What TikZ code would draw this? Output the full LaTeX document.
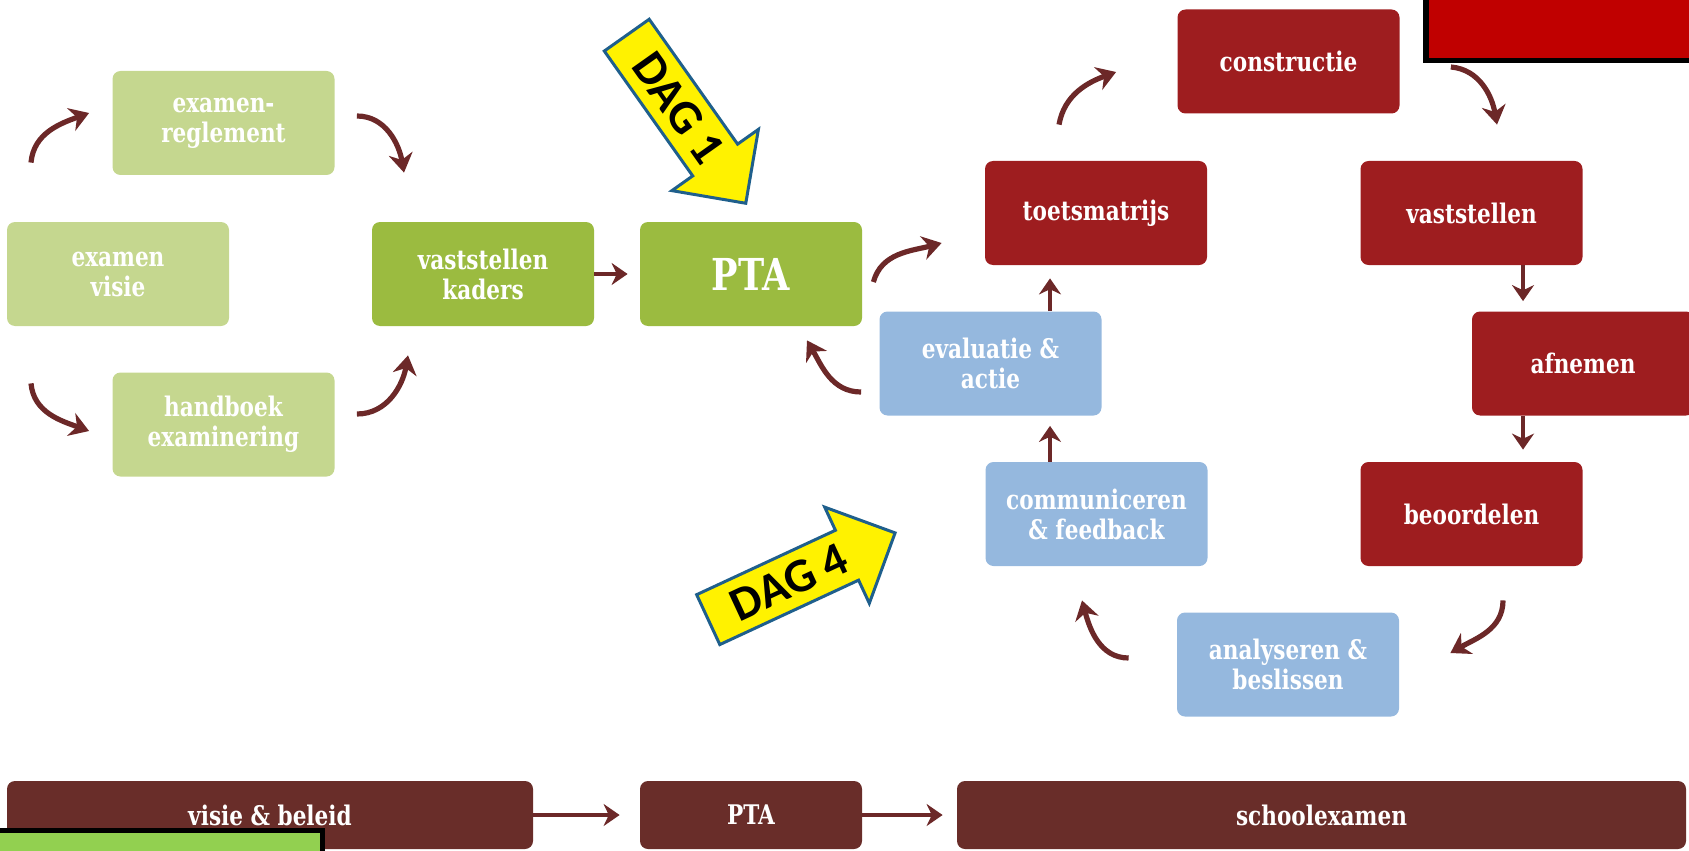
\documentclass[tikz,border=0pt]{standalone}
\usepackage{fontspec}
\newfontfamily\boxfont[FakeStretch=0.8]{DejaVu Serif}
\newfontfamily\dagfont{Carlito}
\usetikzlibrary{shapes.arrows,arrows.meta}

\definecolor{groenlicht}{RGB}{197,215,143}
\definecolor{groen}{RGB}{155,187,64}
\definecolor{rood}{RGB}{158,29,31}
\definecolor{blauw}{RGB}{149,184,222}
\definecolor{bruin}{RGB}{105,45,41}
\definecolor{pijlkleur}{RGB}{108,40,40}
\definecolor{dagrand}{RGB}{31,95,140}
\definecolor{rodevlak}{RGB}{192,0,0}
\definecolor{groenevlak}{RGB}{146,208,80}

\begin{document}
\begin{tikzpicture}[x=0.5pt,y=0.5pt,
		box/.style={rounded corners=4pt,minimum width=111pt,minimum height=52pt,inner sep=0pt,
			text=white,align=center,font=\boxfont\bfseries\fontsize{13.5}{15}\selectfont},
		lichtgroen/.style={box,fill=groenlicht},
		groenbox/.style={box,fill=groen},
		roodbox/.style={box,fill=rood},
		blauwbox/.style={box,fill=blauw},
		balk/.style={box,fill=bruin,minimum height=34pt},
		boog/.style={draw=pijlkleur,line width=2.6pt,-{Stealth[length=9.5pt,width=12pt]}},
		recht/.style={draw=pijlkleur,line width=2.3pt,-{Stealth[length=8pt,width=11pt]}},
		dun/.style={draw=pijlkleur,line width=1.6pt,-{Stealth[length=8pt,width=11pt]}},
		dagpijl/.style={single arrow,draw=dagrand,fill=yellow,line width=1.5pt,text=black,
			font=\dagfont\bfseries\fontsize{24}{24}\selectfont,text height=15.5pt,text depth=0pt,
			inner ysep=5.25pt,inner xsep=4pt,minimum height=103pt,single arrow head extend=12.75pt}]
		\path[use as bounding box,clip] (0,0) rectangle (1689,-850);
		
		\node[lichtgroen] (regl) at (223.5,-123) {examen-\\reglement};
		\node[lichtgroen] (visie) at (118,-274) {examen\\visie};
		\node[lichtgroen] (handb) at (223.5,-424.5) {handboek\\examinering};
		\node[groenbox] (kaders) at (483,-274) {vaststellen\\kaders};
		\node[groenbox,font=\boxfont\bfseries\fontsize{22}{24}\selectfont] (pta) at (751,-274) {PTA};
		
		\node[roodbox] (toets) at (1096,-213) {toetsmatrijs};
		\node[roodbox] (constr) at (1288.5,-61.5) {constructie};
		\node[roodbox] (vastst) at (1471.5,-213) {vaststellen};
		\node[roodbox] (afnem) at (1583,-363.5) {afnemen};
		\node[roodbox] (beoord) at (1471.5,-514) {beoordelen};
		\node[blauwbox] (analys) at (1288,-664.5) {analyseren \&\\beslissen};
		\node[blauwbox] (commun) at (1096.5,-514) {communiceren\\\& feedback};
		\node[blauwbox] (evalu) at (990.5,-363.5) {evaluatie \&\\actie};
		
		\node[balk,minimum width=263pt] (beleid) at (270,-815) {visie \& beleid};
		\node[balk] (ptabalk) at (751,-815) {PTA};
		\node[balk,minimum width=364.5pt] (schoolex) at (1321.5,-815) {schoolexamen};
		
		\draw[boog] ([shift={(-87,59)}]visie.north) to[out=85,in=200] ([shift={(-23,10)}]regl.west);
		\draw[boog] ([shift={(22,7)}]regl.east) to[out=0,in=100] ([shift={(-79,49)}]kaders.north);
		\draw[boog] ([shift={(-87,-57)}]visie.south) to[out=-85,in=160] ([shift={(-23,-6.5)}]handb.west);
		\draw[boog] ([shift={(22,10.5)}]handb.east) to[out=0,in=-100] ([shift={(-75,-29)}]kaders.south);
		\draw[recht,shorten >=6pt] (kaders.east) -- (pta.west);
		\draw[boog] ([shift={(11,-8)}]pta.east) to[out=75,in=195] ([shift={(-43,-30)}]toets.west);
		\draw[boog] ([shift={(-18,-28.5)}]evalu.west) to[out=180,in=-60] ([shift={(56,-14)}]pta.south);
		
		\draw[boog] ([shift={(-37,36)}]toets.north) to[out=80,in=200] ([shift={(-61,-10.5)}]constr.west);
		\draw[boog] ([shift={(51,-5.5)}]constr.east) to[out=-5,in=100] ([shift={(25.5,36)}]vastst.north);
		\draw[recht,shorten >=5pt] ([shift={(51.5,0)}]vastst.south) -- ([shift={(-60,0)}]afnem.north);
		\draw[recht,shorten >=6pt] ([shift={(-60,0)}]afnem.south) -- ([shift={(51.5,0)}]beoord.north);
		\draw[boog] ([shift={(31.5,-34)}]beoord.south) to[out=-90,in=30] ([shift={(51,11.5)}]analys.east);
		\draw[boog] ([shift={(-48,6.5)}]analys.west) to[out=180,in=-75] ([shift={(-14.5,-34)}]commun.south);
		\draw[recht,shorten >=5pt] ([shift={(-46.5,0)}]commun.north) -- ([shift={(59.5,0)}]evalu.south);
		\draw[recht,shorten >=6.5pt] ([shift={(59.5,0)}]evalu.north) -- ([shift={(-46,0)}]toets.south);
		
		\draw[dun,shorten >=10pt] (beleid.east) -- (ptabalk.west);
		\draw[dun,shorten >=7pt] (ptabalk.east) -- (schoolex.west);
		
		\node[dagpijl,rotate=-54.7,anchor=tip] (dag1) at (747,-205) {DAG 1};
		\node[dagpijl,rotate=24.9,anchor=tip] (dag4) at (897,-532) {DAG 4};
		
		\path[fill=rodevlak,draw=black,line width=2.75pt] (1426,-60.5) rectangle (1720,20);
		\path[fill=groenevlak,draw=black,line width=2.5pt] (-20,-830.5) rectangle (322.5,-880);
	\end{tikzpicture}
\end{document}
